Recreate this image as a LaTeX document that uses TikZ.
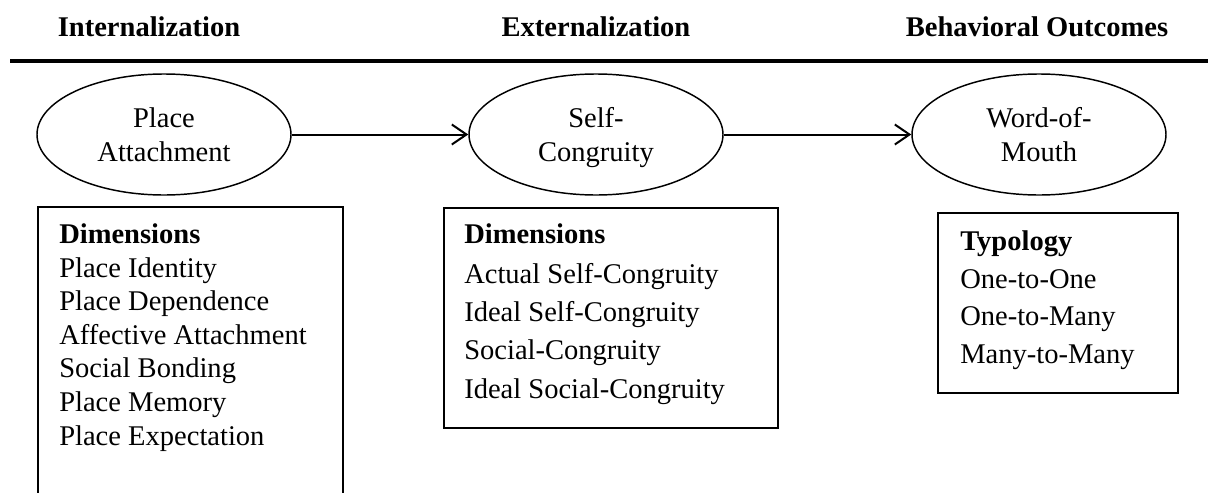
\documentclass[tikz,border=0pt]{standalone}
\usepackage{fontspec}
\setmainfont{Liberation Serif}
\usetikzlibrary{shapes.geometric,arrows.meta}

\begin{document}
\begin{tikzpicture}[x=0.75pt,y=-0.75pt,
  txt/.style={inner sep=0pt,font=\fontsize{21.4}{25.5}\selectfont},
  head/.style={inner sep=0pt,font=\fontsize{21.4}{25.5}\selectfont\bfseries},
  concept/.style={draw,ellipse,line width=1.1pt,minimum width=190.5pt,minimum height=90.75pt,inner sep=0pt,align=center,font=\fontsize{21.4}{25.5}\selectfont},
  frame/.style={draw,line width=1.4pt,inner sep=0pt,anchor=north west},
  flow/.style={line width=1.5pt,-{Straight Barb[length=11pt,width=15pt,line width=1.5pt]}}]
\useasboundingbox (0,0) rectangle (1208,493);

\node[head,anchor=base] (h1) at (149,36) {Internalization};
\node[head,anchor=base] (h2) at (596,36) {Externalization};
\node[head,anchor=base] (h3) at (1037,36) {Behavioral Outcomes};
\coordinate (rl) at (10,61);
\coordinate (rr) at (1208,61);
\draw[line width=2.3pt] (rl) -- (rr);

\node[concept] (pa) at (164,134.5) {Place\\Attachment};
\node[concept] (sc) at (596,134.5) {Self-\\\smash{Congruity}};
\node[concept] (wom) at (1039,134.5) {Word-of-\\Mouth};
\draw[flow] (pa) -- (sc);
\draw[flow] (sc) -- (wom);

% dimensions of place attachment
\node[frame,minimum width=228.75pt,minimum height=240pt] (pabox) at (37,206) {};
\node[head,anchor=base west] (pa0) at (59,243) {Dimensions};
\node[txt,anchor=base west] (pa1) at (59,277) {Place Identity};
\node[txt,anchor=base west] (pa2) at (59,310) {Place Dependence};
\node[txt,anchor=base west] (pa3) at (59,344) {Affective Attachment};
\node[txt,anchor=base west] (pa4) at (59,377) {Social Bonding};
\node[txt,anchor=base west] (pa5) at (59,411) {Place Memory};
\node[txt,anchor=base west] (pa6) at (59,445) {Place Expectation};

% dimensions of self-congruity
\node[frame,minimum width=250.5pt,minimum height=165pt] (scbox) at (443,207) {};
\node[head,anchor=base west] (sc0) at (464,243) {Dimensions};
\node[txt,anchor=base west] (sc1) at (464,283) {Actual Self-Congruity};
\node[txt,anchor=base west] (sc2) at (464,321) {Ideal Self-Congruity};
\node[txt,anchor=base west] (sc3) at (464,359) {Social-Congruity};
\node[txt,anchor=base west] (sc4) at (464,398) {Ideal Social-Congruity};

% typology of word-of-mouth
\node[frame,minimum width=180pt,minimum height=135pt] (wombox) at (937,212) {};
\node[head,anchor=base west] (wom0) at (960,250) {Typology};
\node[txt,anchor=base west] (wom1) at (960,288) {One-to-One};
\node[txt,anchor=base west] (wom2) at (960,325) {One-to-Many};
\node[txt,anchor=base west] (wom3) at (960,363) {Many-to-Many};
\end{tikzpicture}
\end{document}
